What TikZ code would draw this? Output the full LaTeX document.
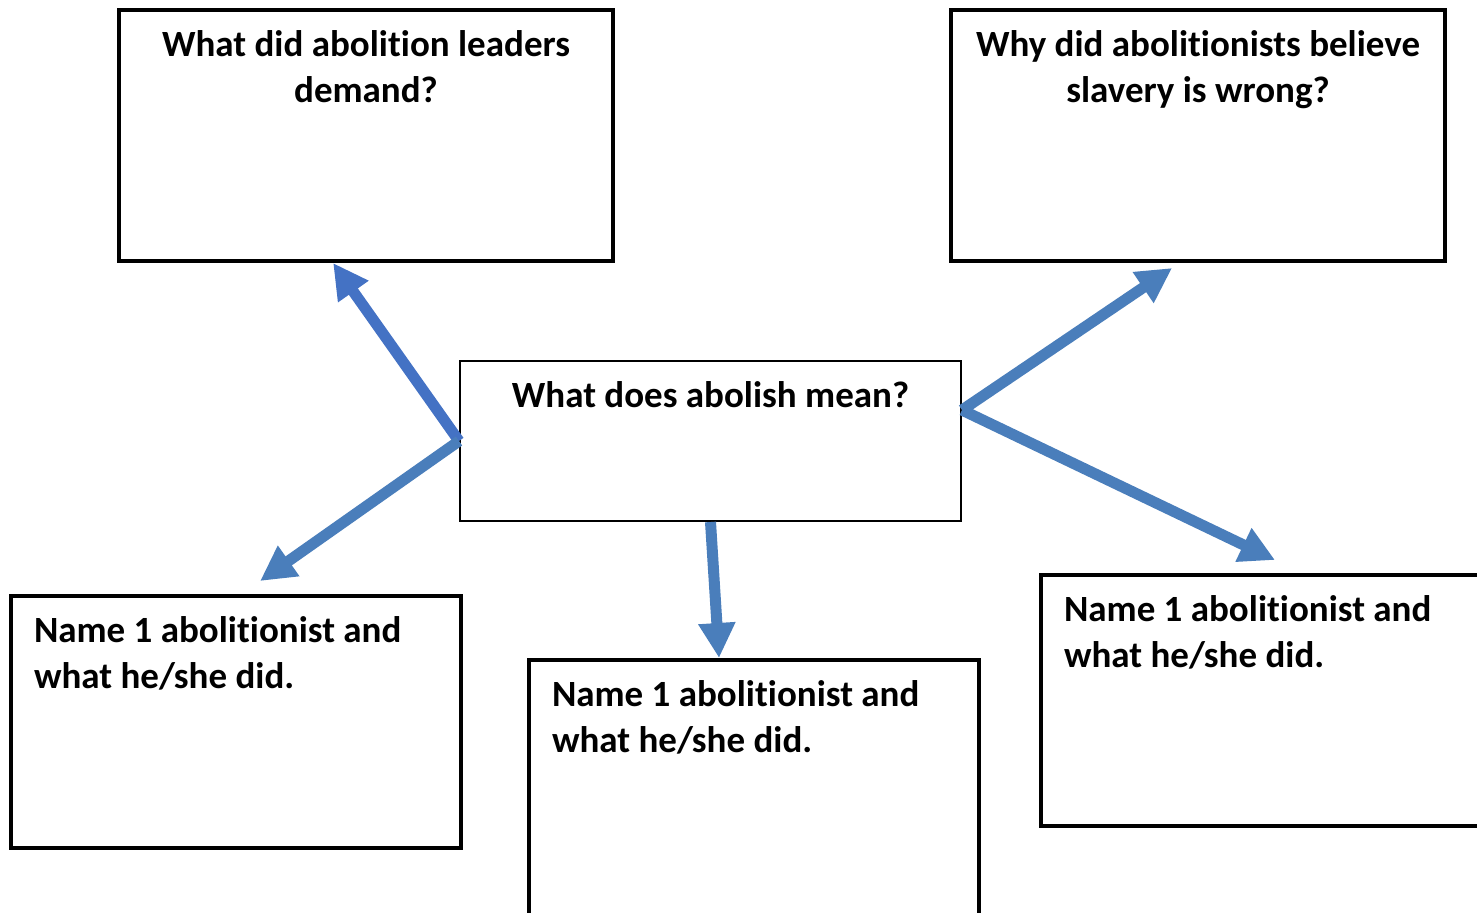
\documentclass[tikz,border=0pt]{standalone}
\usepackage{fontspec}
\setmainfont{Carlito}[Ligatures={NoCommon}]
\usepackage{tikz}
\usetikzlibrary{arrows.meta,calc}
\definecolor{qblue}{HTML}{4472C4}
\definecolor{sblue}{HTML}{4A7EBB}
\newcommand{\qtext}[4]{\begin{minipage}[c][#1][t]{#2}#3\rule{0pt}{23pt}#4\end{minipage}}

\begin{document}
\begin{tikzpicture}[x=0.5pt,y=0.5pt,
    every node/.style={font=\fontsize{18.5}{23}\selectfont\bfseries},
    qbox/.style={draw,line width=2pt,inner xsep=11.5pt,inner ysep=0pt},
    mainbox/.style={qbox,line width=1pt},
    link/.style={draw=sblue,line width=5.5pt,-{Triangle[length=17.5pt,width=17.5pt]}}]
      \path[use as bounding box,clip] (0,0) rectangle (1477,-912);
      \node[qbox] (tl) at (366,-135.5) {\qtext{125.5pt}{224pt}{\centering}{What did abolition leaders\\demand?}};
      \node[qbox] (tr) at (1198,-135.5) {\qtext{125.5pt}{224pt}{\centering}{Why did abolitionists believe\\slavery is wrong?}};
      \node[mainbox] (ctr) at (710.5,-441) {\qtext{80pt}{227.5pt}{\centering}{What does abolish mean?}};
      \node[qbox] (bl) at (236,-722) {\qtext{126pt}{202pt}{}{Name 1 abolitionist and\\what he/she did.}};
      \node[qbox] (bc) at (754,-790) {\qtext{130pt}{202pt}{}{Name 1 abolitionist and\\what he/she did.}};
      \node[qbox] (br) at (1266,-700.5) {\qtext{125.5pt}{202pt}{}{Name 1 abolitionist and\\what he/she did.}};
      \draw[link,draw=qblue] (ctr.west) -- ($(tl.south west)!0.434!(tl.south east)$);
      \draw[link] (ctr.west) -- ($(bl.north west)!0.553!(bl.north east)+(0,6.5pt)$);
      \draw[link] (ctr.south) -- ($(bc.north west)!0.423!(bc.north east)$);
      \draw[link] ($(ctr.north east)!0.309!(ctr.south east)$) -- ($(tr.south west)!0.448!(tr.south east)-(0,2.5pt)$);
      \draw[link] ($(ctr.north east)!0.309!(ctr.south east)$) -- ($(br.north west)+(118pt,6.5pt)$);
    \end{tikzpicture}
\end{document}
